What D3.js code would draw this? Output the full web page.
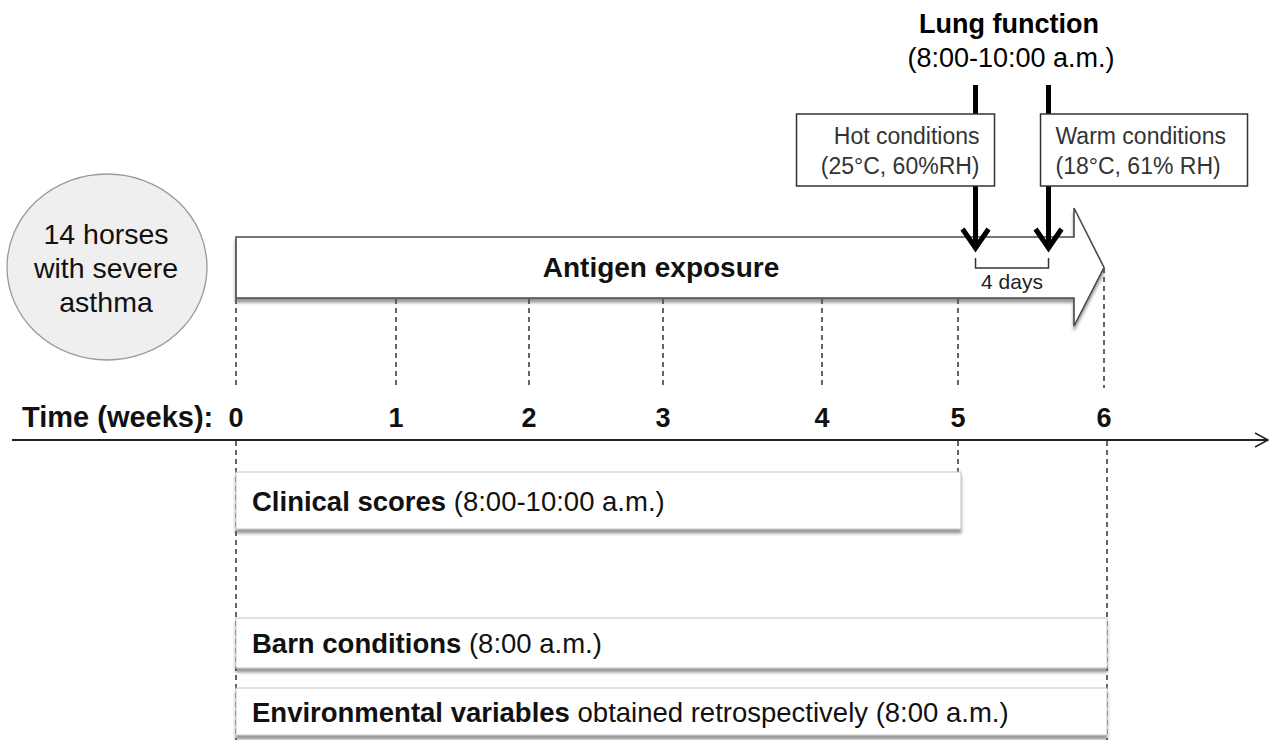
<!DOCTYPE html>
<html>
<head>
<meta charset="utf-8">
<script src="https://cdn.jsdelivr.net/npm/d3@7"></script>
<style>
  html, body { margin: 0; padding: 0; background: #fff; }
  svg { display: block; font-family: "Liberation Sans", Arial, Helvetica, sans-serif; }
</style>
</head>
<body>
<svg id="chart" width="1274" height="740"></svg>
<script>
// ---- data ----
const weeks = [0, 1, 2, 3, 4, 5, 6];
const weekLabels = ["0", "1", "2", "3", "4", "5", "6"];
const axisTitle = "Time (weeks):";
const cohortLines = ["14 horses", "with severe", "asthma"];
const exposureLabel = "Antigen exposure";
const exposureStart = 0;
const exposureEnd = 6;
const lungTitle = "Lung function";
const lungTime = "(8:00-10:00 a.m.)";
const lungWeeks = [5.12, 5.62];
const conditionLine1 = ["Hot conditions", "Warm conditions"];
const conditionLine2 = ["(25°C, 60%RH)", "(18°C, 61% RH)"];
const gapLabel = "4 days";
const periodBold = ["Clinical scores", "Barn conditions", "Environmental variables"];
const periodRest = [" (8:00-10:00 a.m.)", " (8:00 a.m.)", " obtained retrospectively (8:00 a.m.)"];
const periodStart = [0, 0, 0];
const periodEnd = [5, 6, 6];

// ---- layout ----
const svg = d3.select("#chart");
const x = d3.scaleLinear().domain(weeks).range([236, 396, 529, 663, 822, 958, 1104]);
const axisY = 440;

const defs = svg.append("defs");
const sh = defs.append("filter").attr("id", "shadow").attr("x", "-5%").attr("y", "-20%").attr("width", "110%").attr("height", "160%");
sh.append("feDropShadow").attr("dx", 0).attr("dy", 4).attr("stdDeviation", 1.6)
  .attr("flood-color", "#555").attr("flood-opacity", 0.6);

// cohort ellipse
svg.append("ellipse").attr("cx", 107).attr("cy", 267).attr("rx", 100).attr("ry", 93)
  .attr("fill", "#efefef").attr("stroke", "#9a9a9a").attr("stroke-width", 1.3);
svg.append("g").selectAll("text").data(cohortLines).join("text")
  .attr("x", 106).attr("y", (d, i) => 244 + i * 34)
  .attr("text-anchor", "middle").attr("font-size", 28.5).attr("fill", "#111")
  .text(d => d);

// dashed week guides above axis
svg.append("g").selectAll("line").data(weeks).join("line")
  .attr("x1", d => x(d)).attr("x2", d => x(d))
  .attr("y1", d => d === exposureEnd ? 268 : 299).attr("y2", 388)
  .attr("stroke", "#333").attr("stroke-width", 1.5).attr("stroke-dasharray", "5,4");

// antigen exposure arrow
const bodyTop = 237, bodyBot = 298, headTop = 208, headBot = 326;
const x0 = x(exposureStart), xt = x(exposureEnd), xb = xt - 30;
const arrowPath = d3.path();
arrowPath.moveTo(x0, bodyTop); arrowPath.lineTo(xb, bodyTop); arrowPath.lineTo(xb, headTop);
arrowPath.lineTo(xt, (bodyTop + bodyBot) / 2); arrowPath.lineTo(xb, headBot);
arrowPath.lineTo(xb, bodyBot); arrowPath.lineTo(x0, bodyBot); arrowPath.closePath();
svg.append("path").attr("d", arrowPath.toString()).attr("fill", "#fff")
  .attr("stroke", "#4a4a4a").attr("stroke-width", 1.6).attr("filter", "url(#shadow)");
svg.append("text").attr("x", (x0 + xt) / 2 - 9).attr("y", 277)
  .attr("text-anchor", "middle").attr("font-size", 28).attr("font-weight", "bold").attr("fill", "#111")
  .text(exposureLabel);

// lung function arrows
const lungG = svg.append("g");
lungG.selectAll("line").data(lungWeeks).join("line")
  .attr("x1", d => x(d)).attr("x2", d => x(d)).attr("y1", 85).attr("y2", 247)
  .attr("stroke", "#000").attr("stroke-width", 5);
lungG.selectAll("path").data(lungWeeks).join("path")
  .attr("d", d => `M${x(d) - 13},${229} L${x(d)},${248} L${x(d) + 13},${229}`)
  .attr("fill", "none").attr("stroke", "#000").attr("stroke-width", 5).attr("stroke-linejoin", "miter");

// condition boxes
const boxLeft = [d => x(d) - 179, d => x(d) - 8];
const boxW = [198, 207];
const condG = svg.append("g").selectAll("g").data(lungWeeks).join("g");
condG.append("rect")
  .attr("x", (d, i) => boxLeft[i](d)).attr("y", 114).attr("width", (d, i) => boxW[i]).attr("height", 72)
  .attr("fill", "#fff").attr("stroke", "#333").attr("stroke-width", 1.5);
condG.append("text")
  .attr("x", (d, i) => i === 0 ? boxLeft[i](d) + boxW[i] - 15 : boxLeft[i](d) + 15)
  .attr("text-anchor", (d, i) => i === 0 ? "end" : "start")
  .attr("font-size", 23).attr("fill", "#333")
  .each(function (d, i) {
    const t = d3.select(this);
    const xx = +t.attr("x");
    t.append("tspan").attr("x", xx).attr("y", 144).text(conditionLine1[i]);
    t.append("tspan").attr("x", xx).attr("y", 174).text(conditionLine2[i]);
  });

// lung function title
svg.append("text").attr("x", 1009).attr("y", 33).attr("text-anchor", "middle")
  .attr("font-size", 27).attr("font-weight", "bold").attr("fill", "#000").text(lungTitle);
svg.append("text").attr("x", 1011).attr("y", 67).attr("text-anchor", "middle")
  .attr("font-size", 27).attr("fill", "#000").text(lungTime);

// 4 days bracket
const bx1 = x(lungWeeks[0]), bx2 = x(lungWeeks[1]);
svg.append("path").attr("d", `M${bx1},258 L${bx1},268 L${bx2},268 L${bx2},258`)
  .attr("fill", "none").attr("stroke", "#333").attr("stroke-width", 1.5);
svg.append("text").attr("x", (bx1 + bx2) / 2).attr("y", 289).attr("text-anchor", "middle")
  .attr("font-size", 21).attr("fill", "#222").text(gapLabel);

// time axis
svg.append("line").attr("x1", 12).attr("x2", 1268).attr("y1", axisY).attr("y2", axisY)
  .attr("stroke", "#222").attr("stroke-width", 2);
svg.append("path").attr("d", `M1255,${axisY - 7} L1268,${axisY} L1255,${axisY + 7}`)
  .attr("fill", "none").attr("stroke", "#222").attr("stroke-width", 1.5);
svg.append("text").attr("x", 22).attr("y", 427).attr("font-size", 29).attr("font-weight", "bold")
  .attr("fill", "#111").text(axisTitle);
svg.append("g").selectAll("text").data(weeks).join("text")
  .attr("x", d => x(d)).attr("y", 427).attr("text-anchor", "middle")
  .attr("font-size", 27).attr("font-weight", "bold").attr("fill", "#111")
  .text((d, i) => weekLabels[i]);

// dashed guides below axis
const below = [{w: 0, y2: 740}, {w: 5, y2: 472}, {w: 6, y2: 740}];
svg.append("g").selectAll("line").data(below).join("line")
  .attr("x1", d => x(d.w) + (d.w === 6 ? 3 : 0)).attr("x2", d => x(d.w) + (d.w === 6 ? 3 : 0))
  .attr("y1", axisY + 1).attr("y2", d => d.y2)
  .attr("stroke", "#333").attr("stroke-width", 1.5).attr("stroke-dasharray", "5,4");

// period boxes
const boxTop = [472, 618, 688];
const boxH = [57, 50, 47];
const pg = svg.append("g").selectAll("g").data(periodBold).join("g");
pg.append("rect")
  .attr("x", (d, i) => x(periodStart[i])).attr("y", (d, i) => boxTop[i])
  .attr("width", (d, i) => x(periodEnd[i]) + 3 - x(periodStart[i])).attr("height", (d, i) => boxH[i])
  .attr("fill", "#fff").attr("stroke", "#c4c4c4").attr("stroke-width", 1).attr("filter", "url(#shadow)");
pg.append("text")
  .attr("x", (d, i) => x(periodStart[i]) + 16).attr("y", (d, i) => boxTop[i] + boxH[i] / 2 + 10)
  .attr("font-size", 27.5).attr("fill", "#111")
  .each(function (d, i) {
    const t = d3.select(this);
    t.append("tspan").attr("font-weight", "bold").text(periodBold[i]);
    t.append("tspan").text(periodRest[i]);
  });
</script>
</body>
</html>
